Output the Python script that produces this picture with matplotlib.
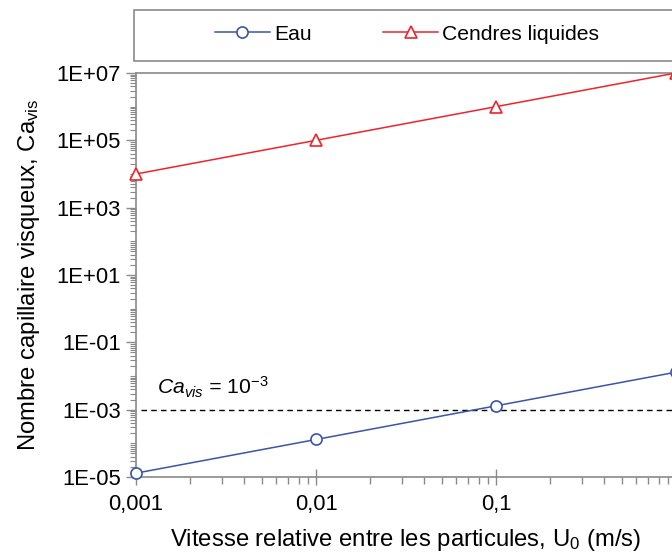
import matplotlib
matplotlib.use("Agg")
import matplotlib.pyplot as plt
from matplotlib.ticker import LogLocator, FixedLocator, FixedFormatter, NullFormatter
from matplotlib.patches import Rectangle

plt.rcParams['font.family'] = ['Liberation Sans', 'DejaVu Sans']
plt.rcParams['mathtext.fontset'] = 'custom'
plt.rcParams['mathtext.rm'] = 'Liberation Sans'
plt.rcParams['mathtext.it'] = 'Liberation Sans:italic'

# Data
vitesse = [0.001, 0.01, 0.1, 1]
ca_eau = [1.3e-5, 1.3e-4, 1.3e-3, 1.3e-2]
ca_cendres = [1e4, 1e5, 1e6, 1e7]
seuil = 1e-3

x_ticks = [0.001, 0.01, 0.1, 1]
x_ticklabels = ["0,001", "0,01", "0,1", "1"]
y_ticks = [1e-5, 1e-3, 1e-1, 1e1, 1e3, 1e5, 1e7]
y_ticklabels = ["1E-05", "1E-03", "1E-01", "1E+01", "1E+03", "1E+05", "1E+07"]

W, H = 672, 553
fig = plt.figure(figsize=(W / 100, H / 100), dpi=100)
ax = fig.add_axes([136 / W, 1 - 477 / H, (676 - 136) / W, (477 - 73) / H])

FS_TICK = 15.8
FS_LAB = 17.2
FS_LEG = 15.2
blue = "#3a55a8"
red = "#f0222a"
grey = "#8a8a8a"

l1, = ax.plot(vitesse, ca_eau, color=blue, lw=1.1, marker="o", ms=8,
              mfc="white", mec=blue, mew=1.2, label="Eau", clip_on=False, zorder=3)
l2, = ax.plot(vitesse, ca_cendres, color=red, lw=1.1, marker="^", ms=9,
              mfc="white", mec=red, mew=1.2, label="Cendres liquides", clip_on=False, zorder=3)
ax.plot([0.00106, 1], [seuil, seuil], color="black", lw=1, ls=(0, (4, 3)))
ax.text(0.0013, 1.9e-3, r"$\mathit{Ca}_{\mathit{vis}}$ = $\mathit{10}^{\mathit{-3}}$",
        fontsize=FS_LEG, style="italic", va="bottom", ha="left")

ax.set_xscale("log")
ax.set_yscale("log")
ax.set_xlim(0.001, 1)
ax.set_ylim(1e-5, 1e7)

ax.xaxis.set_major_locator(FixedLocator(x_ticks))
ax.xaxis.set_major_formatter(FixedFormatter(x_ticklabels))
ax.xaxis.set_minor_locator(LogLocator(base=10, subs=range(2, 10), numticks=20))
ax.xaxis.set_minor_formatter(NullFormatter())
ax.yaxis.set_major_locator(FixedLocator(y_ticks))
ax.yaxis.set_major_formatter(FixedFormatter(y_ticklabels))
ax.yaxis.set_minor_locator(LogLocator(base=10, subs=range(1, 10), numticks=30))
ax.yaxis.set_minor_formatter(NullFormatter())

ax.tick_params(axis="x", which="major", direction="inout", length=12, width=1, color=grey,
               labelsize=FS_TICK, pad=6)
ax.tick_params(axis="x", which="minor", direction="out", length=5, width=1, color=grey)
ax.tick_params(axis="y", which="major", direction="out", length=7, width=1, color=grey,
               labelsize=FS_TICK, pad=4)
ax.tick_params(axis="y", which="minor", direction="out", length=4, width=0.8, color=grey)

for s in ax.spines.values():
    s.set_color(grey)
    s.set_linewidth(1.2)

ax.set_xlabel("Vitesse relative entre les particules, U$_{\\mathrm{0}}$ (m/s)", fontsize=FS_LAB, labelpad=9)
ax.set_ylabel("Nombre capillaire visqueux, Ca$_{\\mathrm{vis}}$", fontsize=FS_LAB, labelpad=10)

# Legend panel above the plot
fig.patches.append(Rectangle((134 / W, 1 - 61 / H), 600 / W, 51 / H, transform=fig.transFigure,
                             facecolor="white", edgecolor=grey, lw=1.2))
fig.legend(handles=[l1, l2], loc="center", bbox_to_anchor=(407 / W, 1 - 34 / H), ncol=2,
           frameon=False, fontsize=FS_LEG, handlelength=2.6, handletextpad=0.2, columnspacing=3.4)

fig.savefig("out.png", dpi=100)
